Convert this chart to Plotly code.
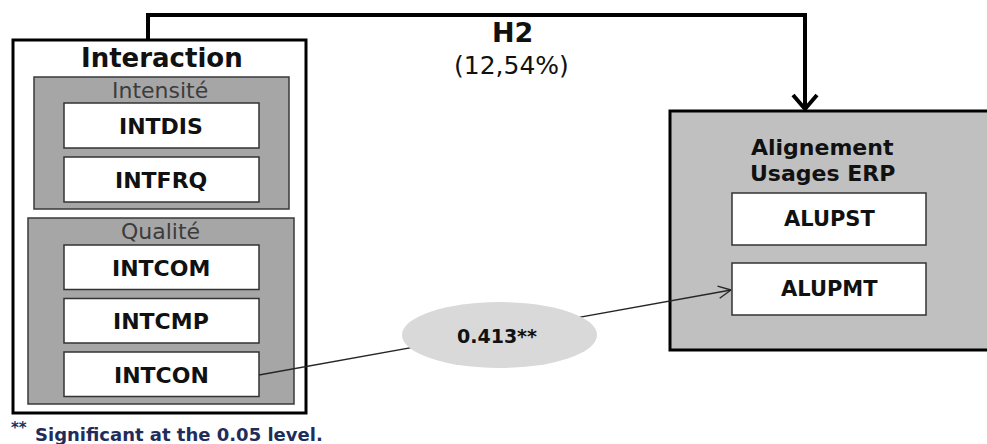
import numpy as np
import plotly.graph_objects as go

# --- diagram content ---
source_construct = "Interaction"
source_groups = ["Intensité", "Qualité"]
intensite_items = ["INTDIS", "INTFRQ"]
qualite_items = ["INTCOM", "INTCMP", "INTCON"]
target_lines = ["Alignement", "Usages ERP"]
target_items = ["ALUPST", "ALUPMT"]
h2_label = "H2"
h2_value = 12.54          # % variance explained
path_coef = 0.413
path_sig = "**"
footnote = "Significant at the 0.05 level."

W, H = 987, 444
FONT = "DejaVu Sans"
INK = "#111111"
NAVY = "#1f2d5a"

fig = go.Figure()
shapes = []
annots = []


def rect(x0, y0, x1, y1, fill, color, width):
    shapes.append(dict(type="rect", x0=x0, y0=y0, x1=x1, y1=y1, fillcolor=fill,
                       line=dict(color=color, width=width), layer="above"))


def text(x, y, s, size, bold=False, color=INK, xanchor="center"):
    if bold:
        s = "<b>" + s + "</b>"
    annots.append(dict(x=x, y=y, text=s, showarrow=False, xanchor=xanchor, yanchor="middle",
                       font=dict(family=FONT, size=size, color=color)))


# H2 connector
shapes.append(dict(type="path", path="M 148,41 L 148,15 L 805,15 L 805,108",
                   line=dict(color="black", width=4), layer="above"))
shapes.append(dict(type="path", path="M 793,95 L 805,109 L 817,95",
                   line=dict(color="black", width=4), layer="above"))

# left construct
rect(13, 40, 306, 413, "white", "black", 3)
text(162, 58, source_construct, 26, bold=True)

rect(34, 77, 289, 209, "#a6a6a6", "#3a3a3a", 1.5)
text(160, 90, source_groups[0], 22, color="#3c3c3c")
for i, lab in enumerate(intensite_items):
    y0 = 103 + i * 54
    rect(64, y0, 259, y0 + 45, "white", "#333333", 1.5)
    text(161, y0 + 23, lab, 22, bold=True)

rect(28, 218, 294, 404, "#a6a6a6", "#3a3a3a", 1.5)
text(160, 231, source_groups[1], 22, color="#3c3c3c")
for i, lab in enumerate(qualite_items):
    y0 = 245 + i * 53.5
    rect(64, y0, 259, y0 + 44.5, "white", "#333333", 1.5)
    text(161, y0 + 23, lab, 22, bold=True)

# right construct (runs off the right edge, so no right border)
shapes.append(dict(type="rect", x0=670, y0=111, x1=W + 5, y1=350, fillcolor="#c0c0c0",
                   line=dict(width=0), layer="above"))
shapes.append(dict(type="path", path=f"M {W + 5},111 L 670,111 L 670,350 L {W + 5},350",
                   line=dict(color="black", width=3), layer="above"))
text(822, 147, target_lines[0], 22, bold=True)
text(822, 173, target_lines[1], 22, bold=True)
for i, lab in enumerate(target_items):
    y0 = 193 + i * 70
    rect(732, y0, 926, y0 + 52, "white", "#333333", 1.5)
    text(829, y0 + 26, lab, 21, bold=True)

# path INTCON -> ALUPMT
p0 = np.array([259.0, 375.0])
p1 = np.array([731.0, 290.0])
shapes.append(dict(type="line", x0=p0[0], y0=p0[1], x1=p1[0], y1=p1[1],
                   line=dict(color="#262626", width=1.3), layer="above"))
u = (p1 - p0) / np.linalg.norm(p1 - p0)
for ang in (0.45, -0.45):
    c, s = np.cos(ang), np.sin(ang)
    d = np.array([u[0] * c - u[1] * s, u[0] * s + u[1] * c])
    q = p1 - 14 * d
    shapes.append(dict(type="line", x0=p1[0], y0=p1[1], x1=q[0], y1=q[1],
                       line=dict(color="#262626", width=1.3), layer="above"))
shapes.append(dict(type="circle", x0=402, y0=302, x1=597, y1=368,
                   fillcolor="#d9d9d9", line=dict(width=0), layer="above"))
text(497, 336, f"{path_coef:.3f}" + path_sig, 19, bold=True)

# H2 label
text(512, 32, h2_label, 27, bold=True)
text(511, 65, "(" + f"{h2_value:.2f}".replace(".", ",") + "%)", 25)

# footnote
text(9, 428, path_sig, 15, bold=True, color=NAVY, xanchor="left")
text(33, 434, footnote, 18, bold=True, color=NAVY, xanchor="left")

fig.update_layout(
    width=W, height=H,
    margin=dict(l=0, r=0, t=0, b=0),
    paper_bgcolor="white", plot_bgcolor="white",
    xaxis=dict(range=[0, W], visible=False, fixedrange=True),
    yaxis=dict(range=[H, 0], visible=False, fixedrange=True),
    shapes=shapes, annotations=annots, showlegend=False,
)

# drop the browser's default body margin so the figure fills the window
fig.write_html("out.html", config={"displayModeBar": False},
               post_script="document.body.style.margin='0';document.body.style.overflow='hidden';")
